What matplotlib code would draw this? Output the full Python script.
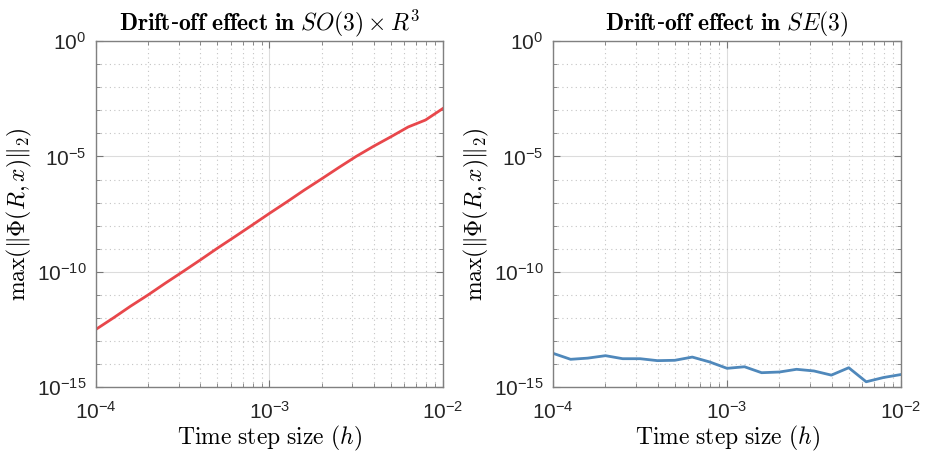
import matplotlib
matplotlib.use("Agg")
from matplotlib import pyplot as plt
from matplotlib.ticker import FuncFormatter, NullFormatter
import numpy as np

plt.rcParams['mathtext.fontset'] = 'cm'
plt.rcParams['font.family'] = ['DejaVu Serif']

# time step sizes (h)
steps = [1.0e-4, 1.26e-4, 1.58e-4, 2.0e-4, 2.51e-4, 3.16e-4, 3.98e-4,
         5.01e-4, 6.31e-4, 7.94e-4, 1.0e-3, 1.26e-3, 1.58e-3, 2.0e-3,
         2.51e-3, 3.16e-3, 3.98e-3, 5.01e-3, 6.31e-3, 7.94e-3, 1.0e-2]

# max constraint violation, SO(3) x R^3
drift_so3r3 = [3.2e-13, 1.0e-12, 3.2e-12, 1.0e-11, 3.2e-11, 1.0e-10, 3.2e-10,
               1.05e-9, 3.3e-9, 1.05e-8, 3.4e-8, 1.07e-7, 3.4e-7, 1.07e-6,
               3.3e-6, 1.0e-5, 2.75e-5, 7.1e-5, 1.9e-4, 3.8e-4, 1.2e-3]

# max constraint violation, SE(3)
drift_se3 = [2.9e-14, 1.6e-14, 1.8e-14, 2.3e-14, 1.7e-14, 1.7e-14, 1.4e-14,
             1.45e-14, 2.0e-14, 1.23e-14, 6.5e-15, 7.6e-15, 4.2e-15, 4.5e-15,
             5.9e-15, 5.0e-15, 3.3e-15, 6.9e-15, 1.7e-15, 2.6e-15, 3.5e-15]

titles = [r'$\mathbf{Drift}$-$\mathbf{off\ effect\ in}\ SO(3)\times R^3$',
          r'$\mathbf{Drift}$-$\mathbf{off\ effect\ in}\ SE(3)$']
colors = ['#e8474b', '#4f88bb']


def sci(v, pos):
    e = int(round(np.log10(v)))
    return r'$\mathregular{10^{%d}}$' % e


fig = plt.figure(figsize=(9.25, 4.57), dpi=100)
axes = [fig.add_axes([0.1038, 0.153, 0.375, 0.757]),
        fig.add_axes([0.598, 0.153, 0.376, 0.757])]

for ax, data, title, c in zip(axes, [drift_so3r3, drift_se3], titles, colors):
    ax.plot(steps, data, color=c, lw=2)
    ax.set_xscale('log')
    ax.set_yscale('log')
    ax.set_xlim(1e-4, 1e-2)
    ax.set_ylim(1e-15, 1)
    ax.set_xticks([1e-4, 1e-3, 1e-2])
    ax.set_xticks([k * 10.0**p for p in (-4, -3) for k in range(2, 10)], minor=True)
    ax.set_yticks([1e-15, 1e-10, 1e-5, 1])
    ax.set_yticks([10.0**-k for k in range(1, 15) if k % 5], minor=True)
    ax.xaxis.set_major_formatter(FuncFormatter(sci))
    ax.yaxis.set_major_formatter(FuncFormatter(sci))
    ax.xaxis.set_minor_formatter(NullFormatter())
    ax.yaxis.set_minor_formatter(NullFormatter())
    ax.tick_params(which='both', direction='in', top=True, right=True,
                   color='#777777', labelsize=15, labelcolor='#262626')
    ax.tick_params(which='major', length=5, width=0.8, pad=7)
    ax.tick_params(axis='x', which='major', pad=10)
    ax.tick_params(which='minor', length=3, width=0.6)
    for lab in ax.get_xticklabels() + ax.get_yticklabels():
        lab.set_fontfamily('Liberation Sans')
    ax.grid(True, which='major', color='#dcdcdc', lw=0.8, ls='-')
    ax.grid(True, which='minor', color='#c4c4c4', lw=0.8, ls=(0, (1, 3)))
    ax.set_axisbelow(True)
    for s in ax.spines.values():
        s.set_color('#808080')
        s.set_linewidth(1.0)
    ax.set_title(title, fontsize=17, pad=8)
    ax.set_xlabel(r'$\mathrm{Time\ step\ size}\ (h)$', fontsize=17, labelpad=1)
    ax.set_ylabel(r'$\max(\|\Phi(R,x)\|_2)$', fontsize=17, labelpad=2)

fig.savefig('out.png', dpi=100)
